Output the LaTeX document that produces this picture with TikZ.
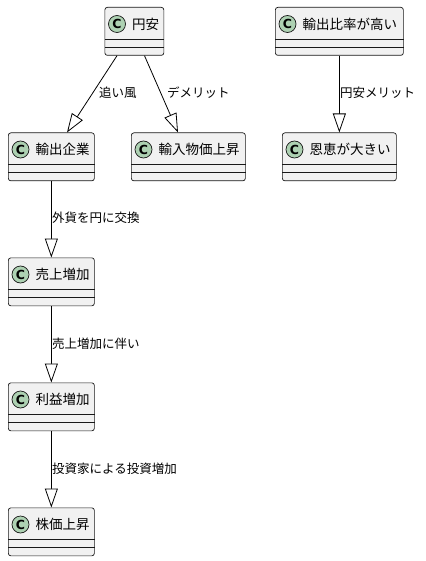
\documentclass[tikz,border=0pt]{standalone}
\usepackage{fontspec}
\setmainfont{Noto Sans CJK JP}
\newfontfamily\cfont{DejaVu Sans}
\usetikzlibrary{arrows.meta,calc}
\definecolor{boxfill}{HTML}{F1F1F1}
\definecolor{boxline}{HTML}{181818}
\definecolor{circfill}{HTML}{ADD1B2}
\tikzset{
  classbox/.style={draw=boxline, fill=boxfill, rounded corners=2.5pt, line width=0.7pt,
    minimum height=48pt, inner sep=0pt, anchor=north west},
  sepline/.style={draw=boxline, line width=0.7pt},
  ext/.style={draw=black, line width=0.8pt, -{Triangle[length=19pt,width=13pt,fill=white,line width=0.8pt]}},
  lbl/.style={font=\fontsize{12.5pt}{15pt}\selectfont, anchor=west, inner sep=0pt},
  ttl/.style={font=\fontsize{13.5pt}{16pt}\selectfont, anchor=west, inner sep=0pt},
  cmark/.style={circle, draw=boxline, fill=circfill, line width=0.7pt, minimum size=17pt,
    inner sep=0pt, font=\cfont\bfseries\fontsize{12.5pt}{15pt}\selectfont},
}
\newcommand\umlclass[5]{%
  \node[classbox, minimum width=#4pt] (#1) at (#2,#3) {};
  \draw[sepline] ($(#1.north west)+(0,32)$) -- ($(#1.north east)+(0,32)$);
  \draw[sepline] ($(#1.north west)+(0,40)$) -- ($(#1.north east)+(0,40)$);
  \node[cmark] (#1-c) at ($(#1.north west)+(12.5,17)$) {C};
  \node[ttl] (#1-t) at ($(#1.north west)+(27.5,17)$) {#5};
}
\begin{document}
\begin{tikzpicture}[x=1pt,y=-1pt]
\useasboundingbox (0,0) rectangle (425,561);
\umlclass{yen}{104.5}{7}{59}{円安}
\umlclass{ratio}{275}{7}{128}{輸出比率が高い}
\umlclass{exp}{8}{132.5}{86}{輸出企業}
\umlclass{imp}{131}{132.5}{114}{輸入物価上昇}
\umlclass{benefit}{282}{132.5}{114}{恩恵が大きい}
\umlclass{sales}{8}{257.5}{86}{売上増加}
\umlclass{profit}{8}{382.5}{86}{利益増加}
\umlclass{stock}{8}{507.5}{86}{株価上昇}

\draw[ext] ($(yen.south west)+(12.5,0)$) -- ($(exp.north west)+(59,0)$);
\draw[ext] ($(yen.south west)+(40,0)$) -- ($(imp.north west)+(47,0)$);
\draw[ext] (ratio.south) -- (benefit.north);
\draw[ext] (exp.south) -- (sales.north);
\draw[ext] (sales.south) -- (profit.north);
\draw[ext] (profit.south) -- (stock.north);

\node[lbl] (l1) at (99,93) {追い風};
\node[lbl] (l2) at (167,93) {デメリット};
\node[lbl] (l3) at (340,93) {円安メリット};
\node[lbl] (l4) at (52,218) {外貨を円に交換};
\node[lbl] (l5) at (52,343.5) {売上増加に伴い};
\node[lbl] (l6) at (52,468.5) {投資家による投資増加};
\end{tikzpicture}
\end{document}
